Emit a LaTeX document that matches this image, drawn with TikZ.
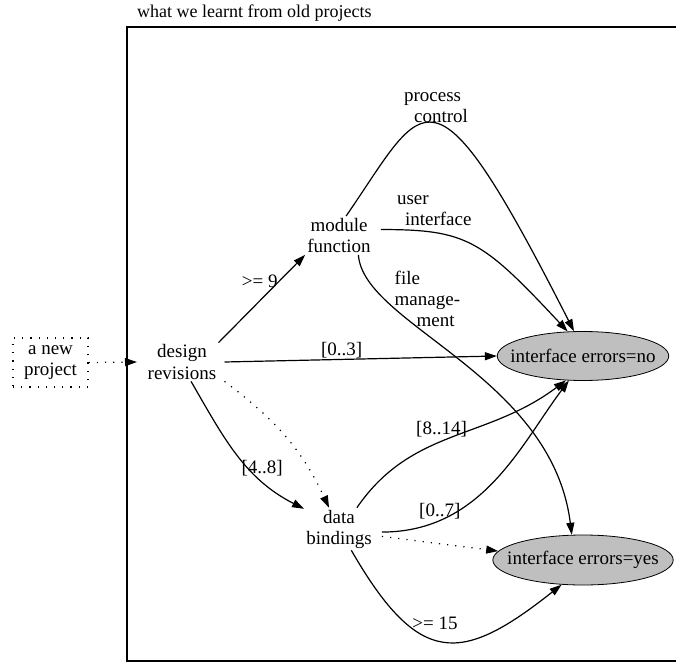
\documentclass[tikz,border=0pt]{standalone}
\usepackage{fontspec}
\setmainfont{Liberation Serif}
\usetikzlibrary{arrows.meta,shapes.geometric}

\begin{document}
\begin{tikzpicture}[
  x=1pt,y=1pt,
  font=\fontsize{19}{21}\selectfont,
  plain/.style={align=center,inner sep=2pt},
  outcome/.style={ellipse,draw,fill=gray!50,line width=0.8pt,inner xsep=-12pt,inner ysep=0pt,minimum height=49pt},
  link/.style={-{Triangle[length=12pt,width=8pt]},line width=1.2pt},
  dotlink/.style={link,dash pattern=on 1.2pt off 7pt},
  lbl/.style={inner sep=1pt,align=left}
]
\useasboundingbox (0,0) rectangle (676,662);
% cluster frame and its title
\draw[line width=1.2pt] (127,1) rectangle (678,635);
\node[anchor=base west,inner sep=0pt,font=\fontsize{18}{21}\selectfont] (title) at (137,644) {what we learnt from old projects};

\node[plain,draw,dash pattern=on 1.2pt off 7pt,line width=1.2pt,minimum width=75pt,minimum height=49pt,inner sep=0pt] (newproj) at (50.5,299.5) {a new\\project};
\coordinate (entry) at (137,300);

\node[plain] (design) at (182,300) {design\\revisions};
\node[plain] (module) at (339,426.5) {module\\function};
\node[plain] (data) at (339,133) {data\\bindings};
\node[outcome] (ieno) at (583,306) {interface errors=no};
\node[outcome,minimum height=50pt] (ieyes) at (583,102) {interface errors=yes};

\draw[dotlink] (newproj.east) -- (entry);

% from design revisions
\draw[link] (design.north east) -- node[lbl,left,pos=.7] (l9) {>= 9} (module.south west);
\draw[link] ([xshift=6pt]design.east) -- node[lbl,above,pos=.43] (l03) {[0..3]} (ieno.west);
\draw[link] (design.-65) to[out=-60,in=153] node[lbl,right,pos=.56,yshift=-5pt,xshift=-4pt] (l48) {[4..8]} (data.150);
\draw[dotlink] ([xshift=6pt]design.south east) to[out=-37,in=115] (data.115);

% from module function
\draw[link] (module.70) .. controls +(80,116) and +(-144,283) .. node[lbl,above,pos=.5] (lpc) {process\\\hspace{10pt}control} (ieno.110);
\draw[link] ([xshift=8pt]module.10) .. controls +(86,0) and +(-86,92) .. node[lbl,above,pos=.25,yshift=5pt] (lui) {user\\\hspace{8pt}interface} (ieno.122);
\draw[link] (module.-45) .. controls +(5,-70) and +(-20,160) .. node[lbl,right,pos=.17,xshift=18pt,yshift=-9pt] (lfm) {file\\manage-\\\hspace{22pt}ment} (ieyes.114);

% from data bindings
\draw[link] (data.50) .. controls +(55,80) and +(-80,-60) .. node[lbl,above,pos=.45,yshift=2pt] (l814) {[8..14]} (ieno.235);
\draw[link] ([xshift=8pt]data.-5) .. controls +(100,0) and +(-48,-64) .. node[lbl,above,pos=.22] (l07) {[0..7]} (ieno.240);
\draw[dotlink] ([xshift=8pt]data.-12) -- (ieyes.174);
\draw[link] (data.-60) .. controls +(68,-118) and +(-100,-79) .. node[lbl,above,pos=.45,yshift=8pt] (l15) {>= 15} (ieyes.229);
\end{tikzpicture}
\end{document}
